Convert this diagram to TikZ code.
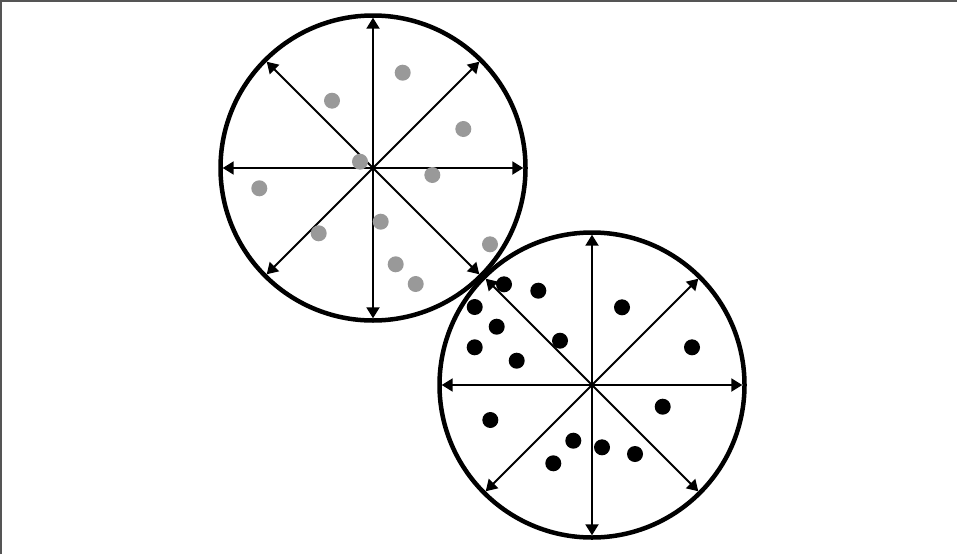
\documentclass[tikz,border=0pt]{standalone}
\usepackage{xcolor}
\usepackage{tikz}
\usetikzlibrary{arrows.meta}
\definecolor{FrameGray}{HTML}{555555}
\definecolor{DotGray}{HTML}{999999}

\begin{document}
\begin{tikzpicture}[
  x=1pt,y=-1pt,
  ring/.style={circle,draw=black,line width=4.5pt,minimum size=305pt,inner sep=0pt,outer sep=0pt},
  spoke/.style={{Triangle[length=11pt,width=13pt]}-{Triangle[length=11pt,width=13pt]},line width=2pt,draw=black,shorten <=2.2pt,shorten >=2.2pt},
  frame/.style={draw=FrameGray,line width=1.5pt}
]
\useasboundingbox (0,0) rectangle (957,554);
\draw[frame] (0.75,554) -- (0.75,0.75) -- (957,0.75);
\node[ring] (upper) at (373,168) {};
\node[ring] (lower) at (592,385) {};
\foreach \a/\b in {0/180,45/225,90/270,135/315}{
  \draw[spoke] (upper.\a) -- (upper.\b);
  \draw[spoke] (lower.\a) -- (lower.\b);
}
% gray points, upper circle
\foreach \p in {(402.7,72.7),(332,100.7),(463.3,129),(360,161.7),(432.3,175),(259.3,188.3),
  (380.7,221.7),(318.7,233.3),(490,244.3),(395.7,264.3),(415.7,284)}
  \fill[DotGray] \p circle (8);
% black points, lower circle
\foreach \p in {(504,284.3),(538.3,290.7),(474.7,307),(622,307.3),(496.7,326.7),(560,340.7),
  (474.7,347.3),(692,347.3),(516.7,360.7),(662.7,406.7),(490.3,420),(573.3,440.7),
  (602,447.3),(635,454),(553.3,463.3)}
  \fill[black] \p circle (8);
\end{tikzpicture}
\end{document}
